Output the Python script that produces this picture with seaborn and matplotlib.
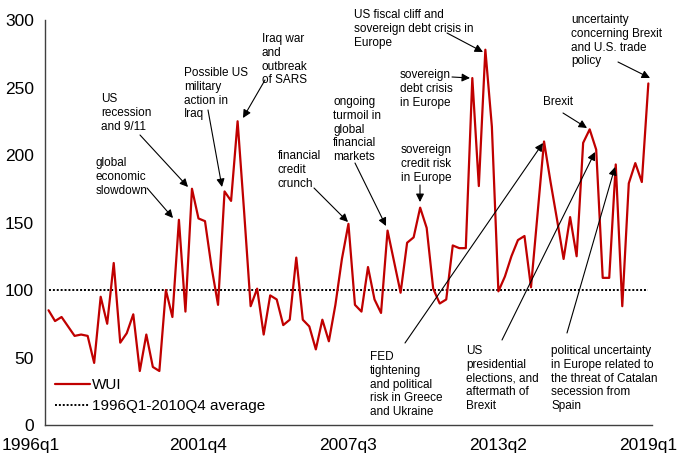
import matplotlib
matplotlib.use("Agg")
import matplotlib.pyplot as plt
import matplotlib.transforms as mtransforms
from matplotlib.lines import Line2D
import seaborn as sns
import pandas as pd

# ---------------- data ----------------
years = list(range(1996, 2020))
quarter_labels = [f"{y}q{q}" for y in years for q in range(1, 5)][:93]  # 1996q1 .. 2019q1

wui = [85, 77, 80, 73, 66, 67, 66, 46, 95, 75,
       120, 61, 68, 82, 40, 67, 43, 40, 100, 80,
       152, 84, 175, 153, 151, 117, 89, 173, 166, 225,
       158, 88, 101, 67, 96, 93, 74, 78, 124, 78,
       73, 56, 78, 62, 89, 123, 149, 89, 84, 117,
       93, 83, 144, 121, 98, 135, 139, 161, 146, 101,
       90, 93, 133, 131, 131, 257, 177, 278, 221, 99,
       110, 125, 137, 140, 102, 156, 210, 180, 152, 123,
       154, 125, 209, 219, 204, 109, 109, 193, 88, 179,
       194, 180, 253]
average_value = 100
tick_labels = ["1996q1", "2001q4", "2007q3", "2013q2", "2019q1"]
y_ticks = [0, 50, 100, 150, 200, 250, 300]

series_label = "WUI"
average_label = "1996Q1-2010Q4 average"

annotations = [
    "global\neconomic\nslowdown",
    "US\nrecession\nand 9/11",
    "Possible US\nmilitary\naction in\nIraq",
    "Iraq war\nand\noutbreak\nof SARS",
    "financial\ncredit\ncrunch",
    "ongoing\nturmoil in\nglobal\nfinancial\nmarkets",
    "sovereign\ncredit risk\nin Europe",
    "sovereign\ndebt crisis\nin Europe",
    "US fiscal cliff and\nsovereign debt crisis in\nEurope",
    "FED\ntightening\nand political\nrisk in Greece\nand Ukraine",
    "US\npresidential\nelections, and\naftermath of\nBrexit",
    "political uncertainty\nin Europe related to\nthe threat of Catalan\nsecession from\nSpain",
    "Brexit",
    "uncertainty\nconcerning Brexit\nand U.S. trade\npolicy",
]

# layout (reference pixel positions): text top-left, arrow tail, arrow head
ann_layout = [
    ((96, 157), (147, 188), (173, 218)),
    ((101, 93), (140, 135), (188, 187)),
    ((184, 67), (208, 110), (222, 187)),
    ((262, 33), (265, 80), (243, 118)),
    ((278, 150), (314, 188), (348, 222)),
    ((333, 96), (355, 163), (386, 226)),
    ((401, 144), (420, 185), (420, 202)),
    ((400, 69), (452, 77), (470, 78)),
    ((354, 9), (447, 33), (483, 52)),
    ((370, 351), (405, 343), (543, 143)),
    ((466, 345), (502, 340), (595, 152)),
    ((551, 345), (567, 333), (615, 167)),
    ((543, 96), (563, 113), (587, 128)),
    ((571, 14), (618, 62), (650, 78)),
]

# ---------------- figure ----------------
W, H = 684, 461
sns.set_theme(style="white")
plt.rcParams["font.family"] = ["Liberation Sans", "DejaVu Sans"]

fig = plt.figure(figsize=(W / 100, H / 100), dpi=100)
ax = fig.add_axes([45 / W, 1 - 425 / H, (652 - 45) / W, (425 - 20) / H])

df = pd.DataFrame({"idx": range(len(wui)), "WUI": wui,
                   "avg": [average_value] * len(wui)})

sns.lineplot(data=df, x="idx", y="avg", ax=ax, color="black", lw=1.4,
             linestyle=(0, (1, 1)))
sns.lineplot(data=df, x="idx", y="WUI", ax=ax, color="#C00000", lw=1.6)

ax.set_xlim(-0.54, 92.56)
ax.set_ylim(0, 300)
ax.set_xlabel("")
ax.set_ylabel("")

tick_pos = [quarter_labels.index(t) for t in tick_labels]
ax.set_xticks(tick_pos)
ax.set_xticklabels(tick_labels)
ax.set_yticks(y_ticks)
ax.tick_params(axis="both", length=0, labelsize=12.5, colors="black")
ax.tick_params(axis="y", pad=8)
ax.tick_params(axis="x", pad=9)

for s in ["top", "right"]:
    ax.spines[s].set_visible(False)
for s in ["left", "bottom"]:
    ax.spines[s].set_color("#404040")
    ax.spines[s].set_linewidth(1.0)

# shift first x label left like the reference
first = ax.get_xticklabels()[0]
first.set_transform(first.get_transform() +
                    mtransforms.ScaledTranslation(-18 / 100, 0, fig.dpi_scale_trans))

# legend
handles = [Line2D([], [], color="#C00000", lw=1.6),
           Line2D([], [], color="black", lw=1.4, linestyle=(0, (1, 1)))]
leg = ax.legend(handles, [series_label, average_label], loc="upper left",
                bbox_to_anchor=(55 / W, 1 - 378 / H), bbox_transform=fig.transFigure,
                frameon=False, fontsize=11, handlelength=2.3, handletextpad=0.15,
                labelspacing=0.45, borderpad=0, borderaxespad=0)
for t in leg.get_texts():
    t.set_color("black")

def fp(p):
    return (p[0] / W, 1 - p[1] / H)

for text, (tpos, tail, head) in zip(annotations, ann_layout):
    ax.text(*fp(tpos), text, transform=fig.transFigure, ha="left", va="top",
            fontsize=8.5, linespacing=1.2, color="black")
    ax.annotate("", xy=fp(head), xycoords="figure fraction",
                xytext=fp(tail), textcoords="figure fraction",
                arrowprops=dict(arrowstyle="-|>", color="black", lw=0.8,
                                mutation_scale=12, shrinkA=0, shrinkB=0))

fig.savefig("out.png", dpi=100)
